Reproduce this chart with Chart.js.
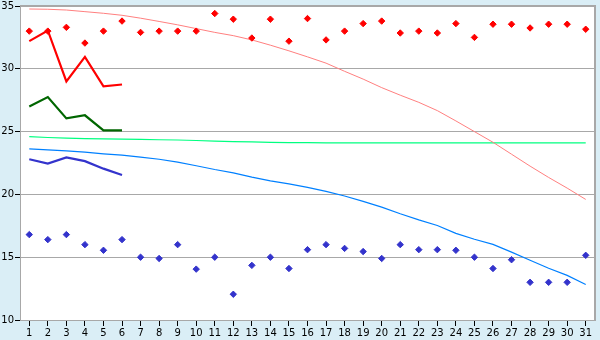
<!DOCTYPE html>
<html>
<head>
<meta charset="utf-8">
<script src="https://cdn.jsdelivr.net/npm/chart.js@4"></script>
<style>
  html, body { margin: 0; padding: 0; background: #daeef6; }
  canvas { display: block; }
</style>
</head>
<body>
<canvas id="chart" width="600" height="340"></canvas>
<script>
/* ---------- DATA ---------- */
const days = ["1","2","3","4","5","6","7","8","9","10","11","12","13","14","15","16",
  "17","18","19","20","21","22","23","24","25","26","27","28","29","30","31"];

const yTicks = [10, 15, 20, 25, 30, 35];

// daily markers
const redPoints = [33.0, 33.0, 33.3, 32.05, 33.0, 33.8, 32.9, 33.0, 33.0, 33.0, 34.4,
  33.95, 32.45, 33.95, 32.2, 34.0, 32.3, 33.0, 33.6, 33.8, 32.85, 33.0, 32.85, 33.6,
  32.5, 33.55, 33.55, 33.25, 33.55, 33.55, 33.15];
const bluePoints = [16.8, 16.4, 16.8, 16.0, 15.55, 16.4, 15.0, 14.9, 16.0, 14.05, 15.0,
  12.05, 14.35, 15.0, 14.1, 15.6, 16.0, 15.7, 15.45, 14.9, 16.0, 15.6, 15.6, 15.55,
  15.0, 14.1, 14.8, 13.0, 13.0, 13.0, 15.15];

// first-week lines
const redLine = [32.2, 33.05, 29.0, 30.95, 28.6, 28.75];
const greenLine = [27.0, 27.75, 26.05, 26.3, 25.1, 25.1];
const blueLine = [22.8, 22.45, 22.95, 22.65, 22.05, 21.55];

// trend lines
const pinkTrend = [34.76, 34.74, 34.68, 34.55, 34.42, 34.26, 34.03, 33.77, 33.5, 33.2,
  32.9, 32.64, 32.3, 31.88, 31.43, 30.95, 30.45, 29.8, 29.18, 28.5, 27.9, 27.33, 26.67,
  25.85, 25.0, 24.15, 23.2, 22.25, 21.35, 20.5, 19.6];
const greenTrend = [24.6, 24.53, 24.48, 24.44, 24.42, 24.4, 24.38, 24.35, 24.33, 24.29,
  24.24, 24.2, 24.18, 24.15, 24.13, 24.12, 24.11, 24.1, 24.1, 24.1, 24.1, 24.1, 24.1,
  24.1, 24.1, 24.1, 24.1, 24.1, 24.1, 24.1, 24.1];
const blueTrend = [23.62, 23.55, 23.47, 23.36, 23.23, 23.13, 22.97, 22.8, 22.57, 22.28,
  21.98, 21.72, 21.38, 21.08, 20.84, 20.56, 20.24, 19.87, 19.44, 18.99, 18.46, 17.97,
  17.52, 16.9, 16.43, 16.02, 15.4, 14.76, 14.12, 13.55, 12.82];

/* ---------- HELPERS ---------- */
const lineSet = (data, color, width, order) => ({
  data,
  borderColor: color,
  borderWidth: width,
  pointRadius: 0,
  tension: 0,
  fill: false,
  order
});

const pointSet = (data, color) => ({
  data,
  showLine: false,
  pointStyle: "rectRot",
  pointRadius: 3.2,
  pointBackgroundColor: color,
  pointBorderColor: color,
  pointBorderWidth: 1,
  order: 0
});

/* ---------- PLOT AREA BACKGROUND + FRAME ---------- */
const frame = {
  id: "frame",
  beforeDraw(chart) {
    const { ctx, chartArea: a } = chart;
    ctx.save();
    ctx.fillStyle = "#daeef6";
    ctx.fillRect(0, 0, chart.width, chart.height);
    ctx.fillStyle = "#ffffff";
    ctx.fillRect(a.left, a.top, a.right - a.left, a.bottom - a.top);
    ctx.restore();
  },
  afterDraw(chart) {
    const { ctx, chartArea: a } = chart;
    ctx.save();
    ctx.strokeStyle = "#a8a8a8";
    ctx.lineWidth = 2;
    ctx.beginPath();
    ctx.moveTo(a.left, a.top);
    ctx.lineTo(a.right, a.top);
    ctx.lineTo(a.right, a.bottom);
    ctx.stroke();
    ctx.restore();
  }
};

/* ---------- CHART ---------- */
const tickFont = { family: "DejaVu Sans", size: 10, lineHeight: 1 };

new Chart(document.getElementById("chart"), {
  type: "line",
  data: {
    labels: days,
    datasets: [
      pointSet(redPoints, "#ff0000"),
      pointSet(bluePoints, "#3333cc"),
      lineSet(redLine, "#ff0000", 2.2, 1),
      lineSet(greenLine, "#006600", 2.2, 1),
      lineSet(blueLine, "#3333cc", 2.2, 1),
      lineSet(pinkTrend, "#ff8080", 1, 2),
      lineSet(greenTrend, "#00ff80", 1.2, 2),
      lineSet(blueTrend, "#0080ff", 1.2, 2)
    ]
  },
  options: {
    responsive: false,
    devicePixelRatio: 1,
    animation: false,
    layout: { padding: { top: 5, right: 5, left: 0, bottom: 0 } },
    plugins: {
      legend: { display: false },
      tooltip: { enabled: false }
    },
    scales: {
      x: {
        offset: true,
        grid: {
          drawOnChartArea: false,
          offset: false,
          tickLength: 6,
          tickColor: "#000"
        },
        border: { color: "#a8a8a8" },
        ticks: {
          color: "#000",
          font: tickFont,
          padding: 2,
          maxRotation: 0,
          autoSkip: false
        },
        afterFit(scale) { scale.height = 20; }
      },
      y: {
        min: yTicks[0],
        max: yTicks[yTicks.length - 1],
        afterBuildTicks(scale) {
          scale.ticks = yTicks.map(v => ({ value: v }));
        },
        grid: {
          color: "#a8a8a8",
          tickLength: 5,
          tickColor: "#000"
        },
        border: { color: "#a8a8a8" },
        ticks: {
          color: "#000",
          font: tickFont,
          padding: 1
        },
        afterFit(scale) { scale.width = 20; }
      }
    }
  },
  plugins: [frame]
});
</script>
</body>
</html>
